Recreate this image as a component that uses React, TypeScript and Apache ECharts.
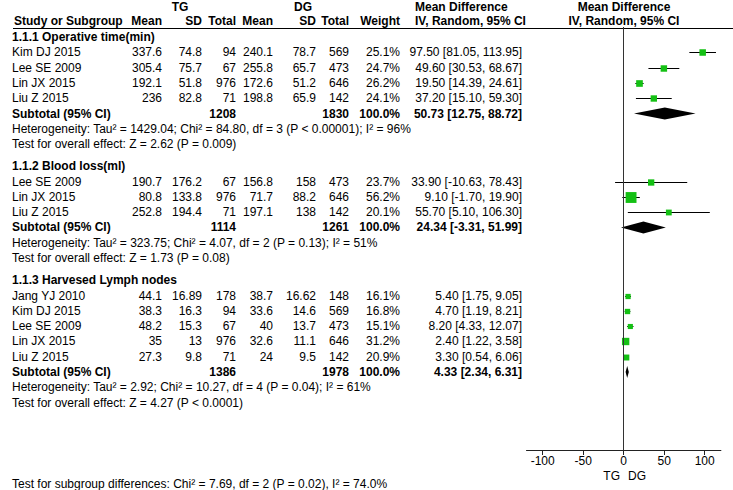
import React, { useEffect, useRef } from "react";
import * as echarts from "echarts";

// ---------- DATA ----------
const groupTitles = ["1.1.1 Operative time(min)", "1.1.2 Blood loss(ml)", "1.1.3 Harvesed Lymph nodes"];
const studyNames = [
  "Kim DJ 2015", "Lee SE 2009", "Lin JX 2015", "Liu Z 2015",
  "Lee SE 2009", "Lin JX 2015", "Liu Z 2015",
  "Jang YJ 2010", "Kim DJ 2015", "Lee SE 2009", "Lin JX 2015", "Liu Z 2015",
];
const studyGroup = [0, 0, 0, 0, 1, 1, 1, 2, 2, 2, 2, 2];
const tgMean = [337.6, 305.4, 192.1, 236, 190.7, 80.8, 252.8, 44.1, 38.3, 48.2, 35, 27.3];
const tgSD = [74.8, 75.7, 51.8, 82.8, 176.2, 133.8, 194.4, 16.89, 16.3, 15.3, 13, 9.8];
const tgTotal = [94, 67, 976, 71, 67, 976, 71, 178, 94, 67, 976, 71];
const dgMean = [240.1, 255.8, 172.6, 198.8, 156.8, 71.7, 197.1, 38.7, 33.6, 40, 32.6, 24];
const dgSD = [78.7, 65.7, 51.2, 65.9, 158, 88.2, 138, 16.62, 14.6, 13.7, 11.1, 9.5];
const dgTotal = [569, 473, 646, 142, 473, 646, 142, 148, 569, 473, 646, 142];
const weights = [25.1, 24.7, 26.2, 24.1, 23.7, 56.2, 20.1, 16.1, 16.8, 15.1, 31.2, 20.9];
const meanDiff = [97.5, 49.6, 19.5, 37.2, 33.9, 9.1, 55.7, 5.4, 4.7, 8.2, 2.4, 3.3];
const ciLow = [81.05, 30.53, 14.39, 15.1, -10.63, -1.7, 5.1, 1.75, 1.19, 4.33, 1.22, 0.54];
const ciHigh = [113.95, 68.67, 24.61, 59.3, 78.43, 19.9, 106.3, 9.05, 8.21, 12.07, 3.58, 6.06];

const subTgTotal = [1208, 1114, 1386];
const subDgTotal = [1830, 1261, 1978];
const subMeanDiff = [50.73, 24.34, 4.33];
const subLow = [12.75, -3.31, 2.34];
const subHigh = [88.72, 51.99, 6.31];
const heterogeneity = [
  "Heterogeneity: Tau² = 1429.04; Chi² = 84.80, df = 3 (P < 0.00001); I² = 96%",
  "Heterogeneity: Tau² = 323.75; Chi² = 4.07, df = 2 (P = 0.13); I² = 51%",
  "Heterogeneity: Tau² = 2.92; Chi² = 10.27, df = 4 (P = 0.04); I² = 61%",
];
const overallEffect = [
  "Test for overall effect: Z = 2.62 (P = 0.009)",
  "Test for overall effect: Z = 1.73 (P = 0.08)",
  "Test for overall effect: Z = 4.27 (P < 0.0001)",
];
const subgroupTest = "Test for subgroup differences: Chi² = 7.69, df = 2 (P = 0.02), I² = 74.0%";
const axisTicks = [-100, -50, 0, 50, 100];
const axisMin = -120;
const axisMax = 120;
const favours = ["TG", "DG"];

// ---------- LAYOUT ----------
const FONT = '"Liberation Sans", Arial, sans-serif';
const GREEN = "#14c014";
const Y0 = 37;
const RH = 15.3;
const GAP = 0.45;
const GRID_TOP = 27;
const AXIS_Y = 450;
const COL = { name: 12, tgMean: 162, tgSD: 202, tgTotal: 236, dgMean: 273, dgSD: 316, dgTotal: 349, weight: 400, md: 522 };

const py = (slot: number) => Y0 + slot * RH;

export default function App() {
  const ref = useRef<HTMLDivElement>(null);
  useEffect(() => {
    if (!ref.current) return;
    const chart = echarts.init(ref.current, null, { renderer: "svg" });

    const studySlot: number[] = [];
    const groupSlot: number[] = [];
    const subSlot: number[] = [];
    let s = 0;
    for (let g = 0; g < groupTitles.length; g++) {
      groupSlot.push(s);
      s += 1;
      studyNames.forEach((_, i) => {
        if (studyGroup[i] === g) {
          studySlot[i] = s;
          s += 1;
        }
      });
      subSlot.push(s);
      s += 3 + GAP;
    }

    const texts: any[] = [];
    const t = (text: string, x: number, y: number, align = "left", bold = false) =>
      texts.push({
        type: "text",
        x,
        y,
        silent: true,
        style: {
          text,
          fill: "#000",
          font: `${bold ? "bold " : ""}12px ${FONT}`,
          align,
          verticalAlign: "middle",
        },
      });

    t("TG", 180, 7, "center", true);
    t("DG", 303, 7, "center", true);
    t("Mean Difference", 415, 7, "left", true);
    t("Mean Difference", 624, 7, "center", true);
    t("Study or Subgroup", 14, 21, "left", true);
    t("Mean", COL.tgMean, 21, "right", true);
    t("SD", COL.tgSD, 21, "right", true);
    t("Total", COL.tgTotal, 21, "right", true);
    t("Mean", COL.dgMean, 21, "right", true);
    t("SD", COL.dgSD, 21, "right", true);
    t("Total", COL.dgTotal, 21, "right", true);
    t("Weight", COL.weight, 21, "right", true);
    t("IV, Random, 95% CI", 415, 21, "left", true);
    t("IV, Random, 95% CI", 624, 21, "center", true);

    const fmtCI = (m: number, l: number, h: number) => `${m.toFixed(2)} [${l.toFixed(2)}, ${h.toFixed(2)}]`;

    groupTitles.forEach((title, g) => {
      t(title, COL.name, py(groupSlot[g]), "left", true);
      const ys = py(subSlot[g]);
      t("Subtotal (95% CI)", COL.name, ys, "left", true);
      t(String(subTgTotal[g]), COL.tgTotal, ys, "right", true);
      t(String(subDgTotal[g]), COL.dgTotal, ys, "right", true);
      t("100.0%", COL.weight, ys, "right", true);
      t(fmtCI(subMeanDiff[g], subLow[g], subHigh[g]), COL.md, ys, "right", true);
      t(heterogeneity[g], COL.name, py(subSlot[g] + 1), "left");
      t(overallEffect[g], COL.name, py(subSlot[g] + 2), "left");
    });

    studyNames.forEach((name, i) => {
      const y = py(studySlot[i]);
      t(name, COL.name, y);
      t(String(tgMean[i]), COL.tgMean, y, "right");
      t(String(tgSD[i]), COL.tgSD, y, "right");
      t(String(tgTotal[i]), COL.tgTotal, y, "right");
      t(String(dgMean[i]), COL.dgMean, y, "right");
      t(String(dgSD[i]), COL.dgSD, y, "right");
      t(String(dgTotal[i]), COL.dgTotal, y, "right");
      t(weights[i].toFixed(1) + "%", COL.weight, y, "right");
      t(fmtCI(meanDiff[i], ciLow[i], ciHigh[i]), COL.md, y, "right");
    });

    t(favours[0], 620, 476, "right");
    t(favours[1], 628, 476, "left");
    t(subgroupTest, COL.name, 484, "left");

    const headerLine = {
      type: "line",
      silent: true,
      shape: { x1: 13, y1: 28.5, x2: 733, y2: 28.5 },
      style: { stroke: "#000", lineWidth: 1 },
    };

    const studyData = studyNames.map((_, i) => [meanDiff[i], ciLow[i], ciHigh[i], studySlot[i], weights[i]]);
    const diamondData = groupTitles.map((_, g) => [subMeanDiff[g], subLow[g], subHigh[g], subSlot[g]]);

    const option: any = {
      animation: false,
      backgroundColor: "#fff",
      grid: { left: 526.5, top: GRID_TOP, width: 194.4, height: AXIS_Y - GRID_TOP },
      xAxis: {
        type: "value",
        min: axisMin,
        max: axisMax,
        splitLine: { show: false },
        axisLine: { show: true, onZero: false, lineStyle: { color: "#222", width: 1 } },
        axisTick: { show: true, length: 5, customValues: axisTicks, lineStyle: { color: "#222" } },
        axisLabel: { customValues: axisTicks, color: "#000", fontSize: 12, fontFamily: FONT, margin: 5 },
      },
      yAxis: {
        type: "value",
        inverse: true,
        min: (GRID_TOP - Y0) / RH,
        max: (AXIS_Y - Y0) / RH,
        show: false,
      },
      series: [
        {
          type: "custom",
          data: studyData,
          clip: false,
          renderItem: (params: any, api: any) => {
            const y = Math.round(api.coord([0, api.value(3)])[1]) + 0.5;
            const xm = api.coord([api.value(0), 0])[0];
            const xl = api.coord([api.value(1), 0])[0];
            const xh = api.coord([api.value(2), 0])[0];
            const size = 3 + 0.14 * api.value(4);
            return {
              type: "group",
              children: [
                { type: "line", shape: { x1: xl, y1: y, x2: xh, y2: y }, style: { stroke: "#000", lineWidth: 1 } },
                {
                  type: "rect",
                  shape: { x: xm - size / 2, y: y - size / 2, width: size, height: size },
                  style: { fill: GREEN },
                },
              ],
            };
          },
          markLine: {
            silent: true,
            symbol: "none",
            label: { show: false },
            lineStyle: { color: "#333", type: "solid", width: 1 },
            data: [{ xAxis: 0 }],
          },
        },
        {
          type: "custom",
          data: diamondData,
          clip: false,
          renderItem: (params: any, api: any) => {
            const y = api.coord([0, api.value(3)])[1];
            const xm = api.coord([api.value(0), 0])[0];
            const xl = api.coord([api.value(1), 0])[0];
            const xh = api.coord([api.value(2), 0])[0];
            const h = 12;
            return {
              type: "polygon",
              shape: { points: [[xl, y], [xm, y - h / 2], [xh, y], [xm, y + h / 2]] },
              style: { fill: "#000" },
            };
          },
        },
      ],
      graphic: [headerLine, ...texts],
    };
    chart.setOption(option);
    return () => chart.dispose();
  }, []);

  return (
    <div
      ref={ref}
      style={{ position: "fixed", left: 0, top: 0, width: 733, height: 490, background: "#fff" }}
    />
  );
}
